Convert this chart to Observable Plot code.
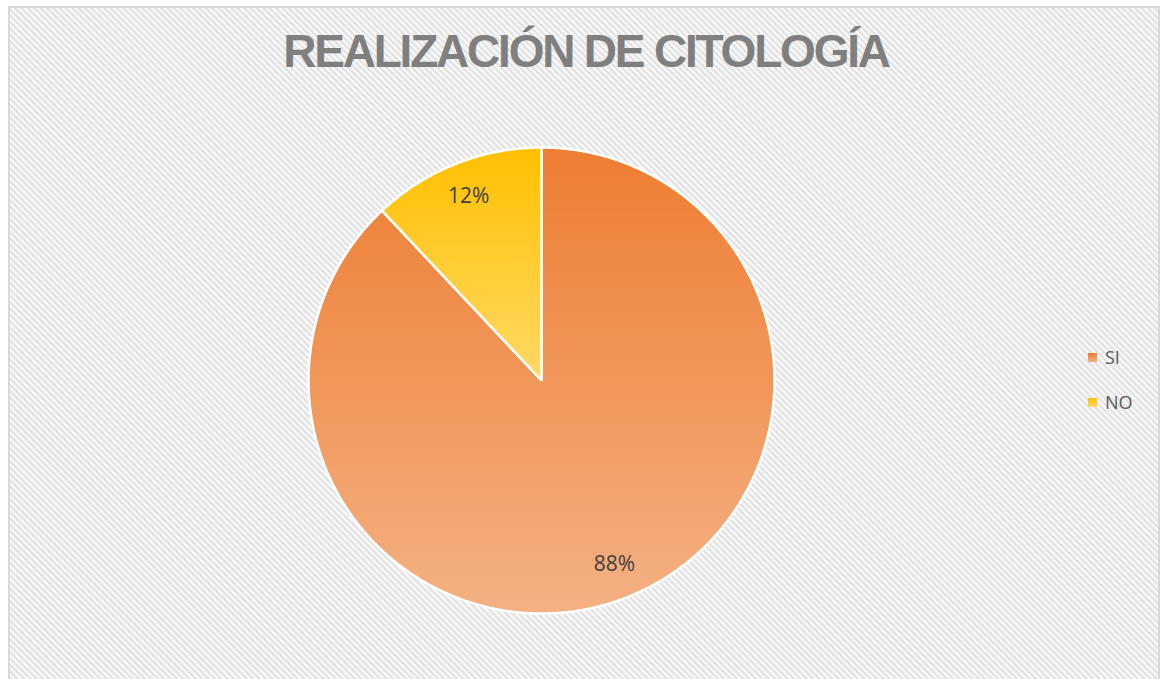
<!DOCTYPE html>
<html><head><meta charset="utf-8">
<script src="https://cdn.jsdelivr.net/npm/d3@7"></script>
<script src="https://cdn.jsdelivr.net/npm/@observablehq/plot@0.6"></script>
<style>
html,body{margin:0;padding:0;background:#fff;}
#wrap{position:relative;width:1162px;height:679px;overflow:hidden;}
#frame{position:absolute;left:8px;top:6px;width:1152px;height:700px;border:2px solid #d9d9d9;box-sizing:border-box;
 background:repeating-linear-gradient(45deg,#e3e3e3 0px,#e3e3e3 1.4px,#f9f9f9 2.4px,#f9f9f9 3.6px,#e3e3e3 4.5px);}
#title{position:absolute;left:0;width:1172px;top:28px;text-align:center;font-family:"Liberation Sans",Arial,sans-serif;
 font-weight:bold;font-size:46px;line-height:46px;letter-spacing:-2.2px;color:#7f7f7f;white-space:nowrap;}
#chart{position:absolute;left:0;top:0;}
#legend{position:absolute;left:1088px;top:0;font-family:"Open Sans",sans-serif;font-size:18px;color:#595959;}
.item{position:absolute;left:0;display:flex;align-items:center;height:24px;white-space:nowrap;}
.sw{width:9px;height:9px;margin-right:8px;}
</style></head>
<body>
<div id="wrap">
  <div id="frame"></div>
  <div id="title">REALIZACIÓN DE CITOLOGÍA</div>
  <div id="chart"></div>
  <div id="legend"></div>
</div>
<script>
// ---- data ----
const categories = ["SI", "NO"];
const values = [88, 12];
const labels = ["88%", "12%"];

// ---- styles ----
const gradTop = ["#ED7D31", "#FFC000"];
const gradBottom = ["#F4B183", "#FFD966"];

const data = categories.map((c, i) => ({cat: c, value: values[i], label: labels[i], i}));
const arcs = d3.pie().sort(null).value(d => d.value)(data);
const slices = arcs.map(p => {
  const pts = [{x: 0, y: 0}];
  const n = Math.max(4, Math.ceil((p.endAngle - p.startAngle) / (Math.PI / 360)));
  for (let k = 0; k <= n; k++) {
    const a = p.startAngle + (p.endAngle - p.startAngle) * k / n;
    pts.push({x: Math.sin(a), y: -Math.cos(a)});
  }
  return {cat: p.data.cat, i: p.data.i, label: p.data.label, mid: (p.startAngle + p.endAngle) / 2, pts};
});

const W = 1162, H = 679, cx = 541, cy = 380, R = 233;
const plot = Plot.plot({
  width: W, height: H, margin: 0,
  style: {background: "transparent", overflow: "visible"},
  x: {domain: [-cx / R, (W - cx) / R], range: [0, W], axis: null},
  y: {domain: [-cy / R, (H - cy) / R], range: [0, H], axis: null},
  marks: [
    ...slices.map(s => Plot.line(s.pts, {x: "x", y: "y", curve: "linear-closed",
      fill: `url(#grad${s.i})`, stroke: "white", strokeWidth: 2.5, strokeLinejoin: "miter"})),
    Plot.text(slices, {x: d => 0.85 * Math.sin(d.mid), y: d => -0.85 * Math.cos(d.mid), text: "label",
      fontSize: 21, fill: "#404040", fontFamily: "Open Sans"})
  ]
});
const defs = d3.select(plot).insert("defs", ":first-child");
categories.forEach((c, i) => {
  const g = defs.append("linearGradient").attr("id", "grad" + i).attr("x1", 0).attr("y1", 0).attr("x2", 0).attr("y2", 1);
  g.append("stop").attr("offset", "0%").attr("stop-color", gradTop[i]);
  g.append("stop").attr("offset", "100%").attr("stop-color", gradBottom[i]);
});
document.getElementById("chart").appendChild(plot);

const legend = d3.select("#legend");
categories.forEach((c, i) => {
  const it = legend.append("div").attr("class", "item").style("top", (345 + i * 45) + "px");
  it.append("div").attr("class", "sw").style("background", `linear-gradient(${gradTop[i]},${gradBottom[i]})`);
  it.append("span").text(c);
});
</script>
</body></html>
